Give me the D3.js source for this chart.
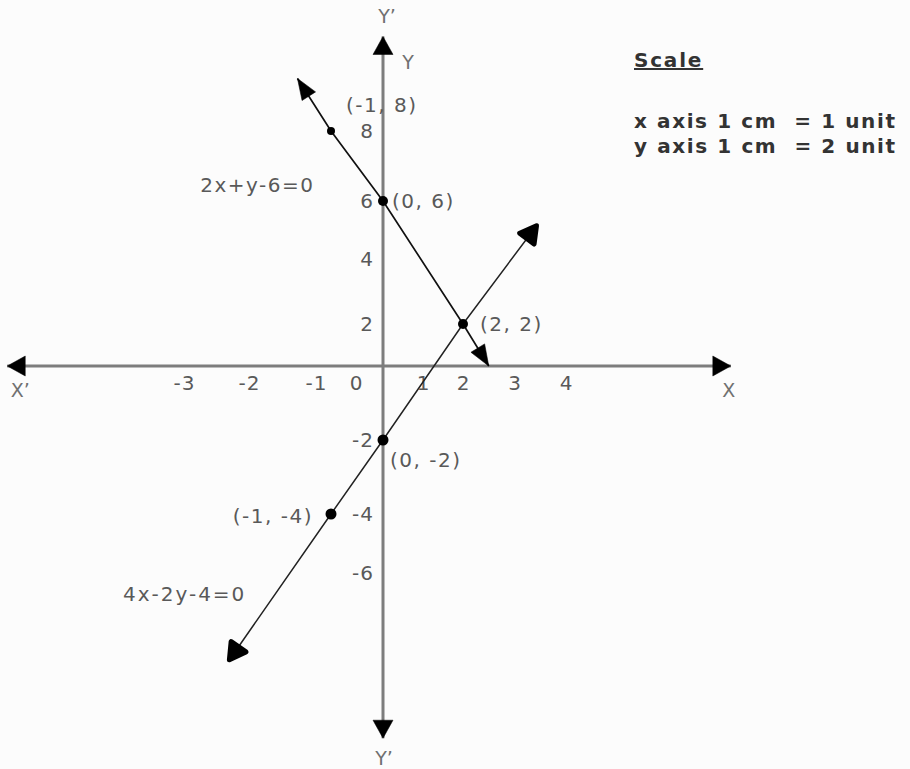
<!DOCTYPE html>
<html><head><meta charset="utf-8">
<script src="https://cdn.jsdelivr.net/npm/d3@7"></script>
<style>
html,body{margin:0;padding:0;background:#fff;}
svg{display:block;}
text{font-family:"DejaVu Sans",Verdana,sans-serif;}
</style></head><body>
<svg id="chart" width="910" height="769"></svg>
<script>
// ---------- data ----------
// graduation labels written along the axes
const xTickValues = [-3, -2, -1, 0, 1, 2, 3, 4];
const yTickValues = [-6, -4, -2, 2, 4, 6, 8];
// graduations used to place the (hand drawn, not to scale) grid
const xKnots = [-3, -2, -1, 0, 2, 4];
const yKnots = [-6, -4, -2, 0, 2, 4, 6, 8];
// how far the drawn axes run (data units)
const xAxisExtent = [-5.95, 7.2];
const yAxisExtent = [-11.6, 10.7];
const axisNames = {xNeg: "X\u2019", xPos: "X", yPos: "Y", yTop: "Y\u2019", yBottom: "Y\u2019"};

// line 1 : 2x + y - 6 = 0
const line1Label = "2x+y-6=0";
const line1Points = [[-1.5, 9.5], [-1, 8], [0, 6], [2, 2], [2.5, 0]];
const line1Marked = [[-1, 8], [0, 6], [2, 2]];
const line1LabelAt = [-2.98, 6.45];

// line 2 : 4x - 2y - 4 = 0
const line2Label = "4x-2y-4=0";
const line2Points = [[-2.55, -9.0], [-1, -4], [0, -2], [2, 2], [3.45, 5.2]];
const line2Marked = [[-1, -4], [0, -2]];
const line2LabelAt = [-4.17, -6.7];

// coordinate annotations
const pointLabels = [
  {p: [-1, 8],  text: "(-1, 8)",  anchor: "start", dx: 15,  dy: -26},
  {p: [0, 6],   text: "(0, 6)",   anchor: "start", dx: 9,   dy: 0},
  {p: [2, 2],   text: "(2, 2)",   anchor: "start", dx: 17,  dy: 0},
  {p: [0, -2],  text: "(0, -2)",  anchor: "start", dx: 7,   dy: 20},
  {p: [-1, -4], text: "(-1, -4)", anchor: "end",   dx: -18, dy: 2}
];

const scaleTitle = "Scale";
const scaleLines = ["x axis 1 cm  = 1 unit", "y axis 1 cm  = 2 unit"];

// ---------- drawing ----------
const svg = d3.select("#chart");
svg.append("rect").attr("width", 910).attr("height", 769).attr("fill", "#fcfcfc");

const x = d3.scaleLinear().domain(xKnots).range([199, 264, 331, 383, 463, 566]);
const y = d3.scaleLinear().domain(yKnots).range([573, 514, 440, 366, 324, 259, 201, 131]);

const defs = svg.append("defs");
function marker(id, path, color, strokeW) {
  defs.append("marker").attr("id", id)
    .attr("viewBox", "-30 -20 40 40").attr("markerWidth", 40).attr("markerHeight", 40)
    .attr("refX", 0).attr("refY", 0).attr("markerUnits", "userSpaceOnUse")
    .attr("orient", "auto-start-reverse")
    .append("path").attr("d", path).attr("fill", color)
    .attr("stroke", color).attr("stroke-width", strokeW).attr("stroke-linejoin", "round");
}
marker("axisArrow", "M0,0 L-18,-10 L-18,10 Z", "#000", 0.5);
marker("thinArrow", "M0,0 L-21,-8 L-21,8 Z", "#000", 0.5);
marker("blobArrow", "M-2,0 L-18,-9 L-18,9 Z", "#000", 5);

const ink = "#595959";
const line = d3.line().x(d => x(d[0])).y(d => y(d[1]));

// axes
svg.append("path").datum([[xAxisExtent[0], 0], [xAxisExtent[1], 0]])
  .attr("d", line).attr("stroke", "#7d7d7d").attr("stroke-width", 3).attr("fill", "none")
  .attr("marker-start", "url(#axisArrow)").attr("marker-end", "url(#axisArrow)");
svg.append("path").datum([[0, yAxisExtent[0]], [0, yAxisExtent[1]]])
  .attr("d", line).attr("stroke", "#7d7d7d").attr("stroke-width", 3).attr("fill", "none")
  .attr("marker-start", "url(#axisArrow)").attr("marker-end", "url(#axisArrow)");

// tick labels (negative graduations are written just left of their mark, 0 beside the origin)
const gx = svg.append("g").attr("transform", `translate(0,${y(0)})`)
  .call(d3.axisBottom(x).tickValues(xTickValues).tickSize(0).tickPadding(10).tickFormat(d => String(d)));
gx.select(".domain").remove();
gx.selectAll("text").attr("font-size", 20).attr("fill", ink).attr("font-family", "DejaVu Sans, Verdana, sans-serif")
  .attr("letter-spacing", 1)
  .attr("dx", d => d === 0 ? -27 : (d < 0 ? -15 : 0));

const gy = svg.append("g").attr("transform", `translate(${x(0)},0)`)
  .call(d3.axisLeft(y).tickValues(yTickValues).tickSize(0).tickPadding(9).tickFormat(d => String(d)));
gy.select(".domain").remove();
gy.selectAll("text").attr("font-size", 20).attr("fill", ink).attr("font-family", "DejaVu Sans, Verdana, sans-serif")
  .attr("letter-spacing", 1);

// axis names
const nameStyle = s => s.attr("font-size", 19).attr("fill", "#707070").attr("text-anchor", "middle");
svg.append("text").call(nameStyle).attr("x", x(xAxisExtent[0]) + 13).attr("y", y(0) + 31).text(axisNames.xNeg);
svg.append("text").call(nameStyle).attr("x", x(xAxisExtent[1]) - 2).attr("y", y(0) + 31).text(axisNames.xPos);
svg.append("text").call(nameStyle).attr("x", x(0) + 25).attr("y", y(yAxisExtent[1]) + 32).text(axisNames.yPos);
svg.append("text").call(nameStyle).attr("x", x(0) + 4).attr("y", y(yAxisExtent[1]) - 14).text(axisNames.yTop);
svg.append("text").call(nameStyle).attr("x", x(0) + 1).attr("y", y(yAxisExtent[0]) + 27).text(axisNames.yBottom);

// lines
svg.append("path").datum(line1Points).attr("d", line)
  .attr("fill", "none").attr("stroke", "#111").attr("stroke-width", 1.7)
  .attr("marker-start", "url(#thinArrow)").attr("marker-end", "url(#thinArrow)");
svg.append("path").datum(line2Points).attr("d", line)
  .attr("fill", "none").attr("stroke", "#222").attr("stroke-width", 1.5)
  .attr("marker-start", "url(#blobArrow)").attr("marker-end", "url(#blobArrow)");

// marked points
svg.selectAll("circle.m1").data(line1Marked).join("circle").attr("class", "m1")
  .attr("cx", d => x(d[0])).attr("cy", d => y(d[1])).attr("r", d => d[1] === 8 ? 4 : 5).attr("fill", "#000");
svg.selectAll("circle.m2").data(line2Marked).join("circle").attr("class", "m2")
  .attr("cx", d => x(d[0])).attr("cy", d => y(d[1])).attr("r", 5.5).attr("fill", "#000");

// coordinate labels
svg.selectAll("text.pl").data(pointLabels).join("text").attr("class", "pl")
  .attr("x", d => x(d.p[0])).attr("y", d => y(d.p[1]))
  .attr("dx", d => d.dx).attr("dy", d => d.dy + 7)
  .attr("text-anchor", d => d.anchor)
  .attr("font-size", 20).attr("letter-spacing", 1.5).attr("fill", ink)
  .text(d => d.text);

// equation labels
svg.append("text").attr("x", x(line1LabelAt[0])).attr("y", y(line1LabelAt[1])).attr("dy", 7)
  .attr("font-size", 20).attr("letter-spacing", 1.5).attr("fill", ink).text(line1Label);
svg.append("text").attr("x", x(line2LabelAt[0])).attr("y", y(line2LabelAt[1])).attr("dy", 7)
  .attr("font-size", 20).attr("letter-spacing", 2).attr("fill", ink).text(line2Label);

// scale note
svg.append("text").attr("x", 634).attr("y", 67).attr("font-size", 20).attr("font-weight", "bold")
  .attr("letter-spacing", 1.8).attr("fill", "#333").attr("text-decoration", "underline").text(scaleTitle);
svg.selectAll("text.sc").data(scaleLines).join("text").attr("class", "sc")
  .attr("x", 634).attr("y", (d, i) => 128 + i * 25)
  .attr("font-size", 20).attr("font-weight", "bold").attr("letter-spacing", 1.6)
  .attr("fill", "#333").style("white-space", "pre").text(d => d);
</script>
</body></html>
